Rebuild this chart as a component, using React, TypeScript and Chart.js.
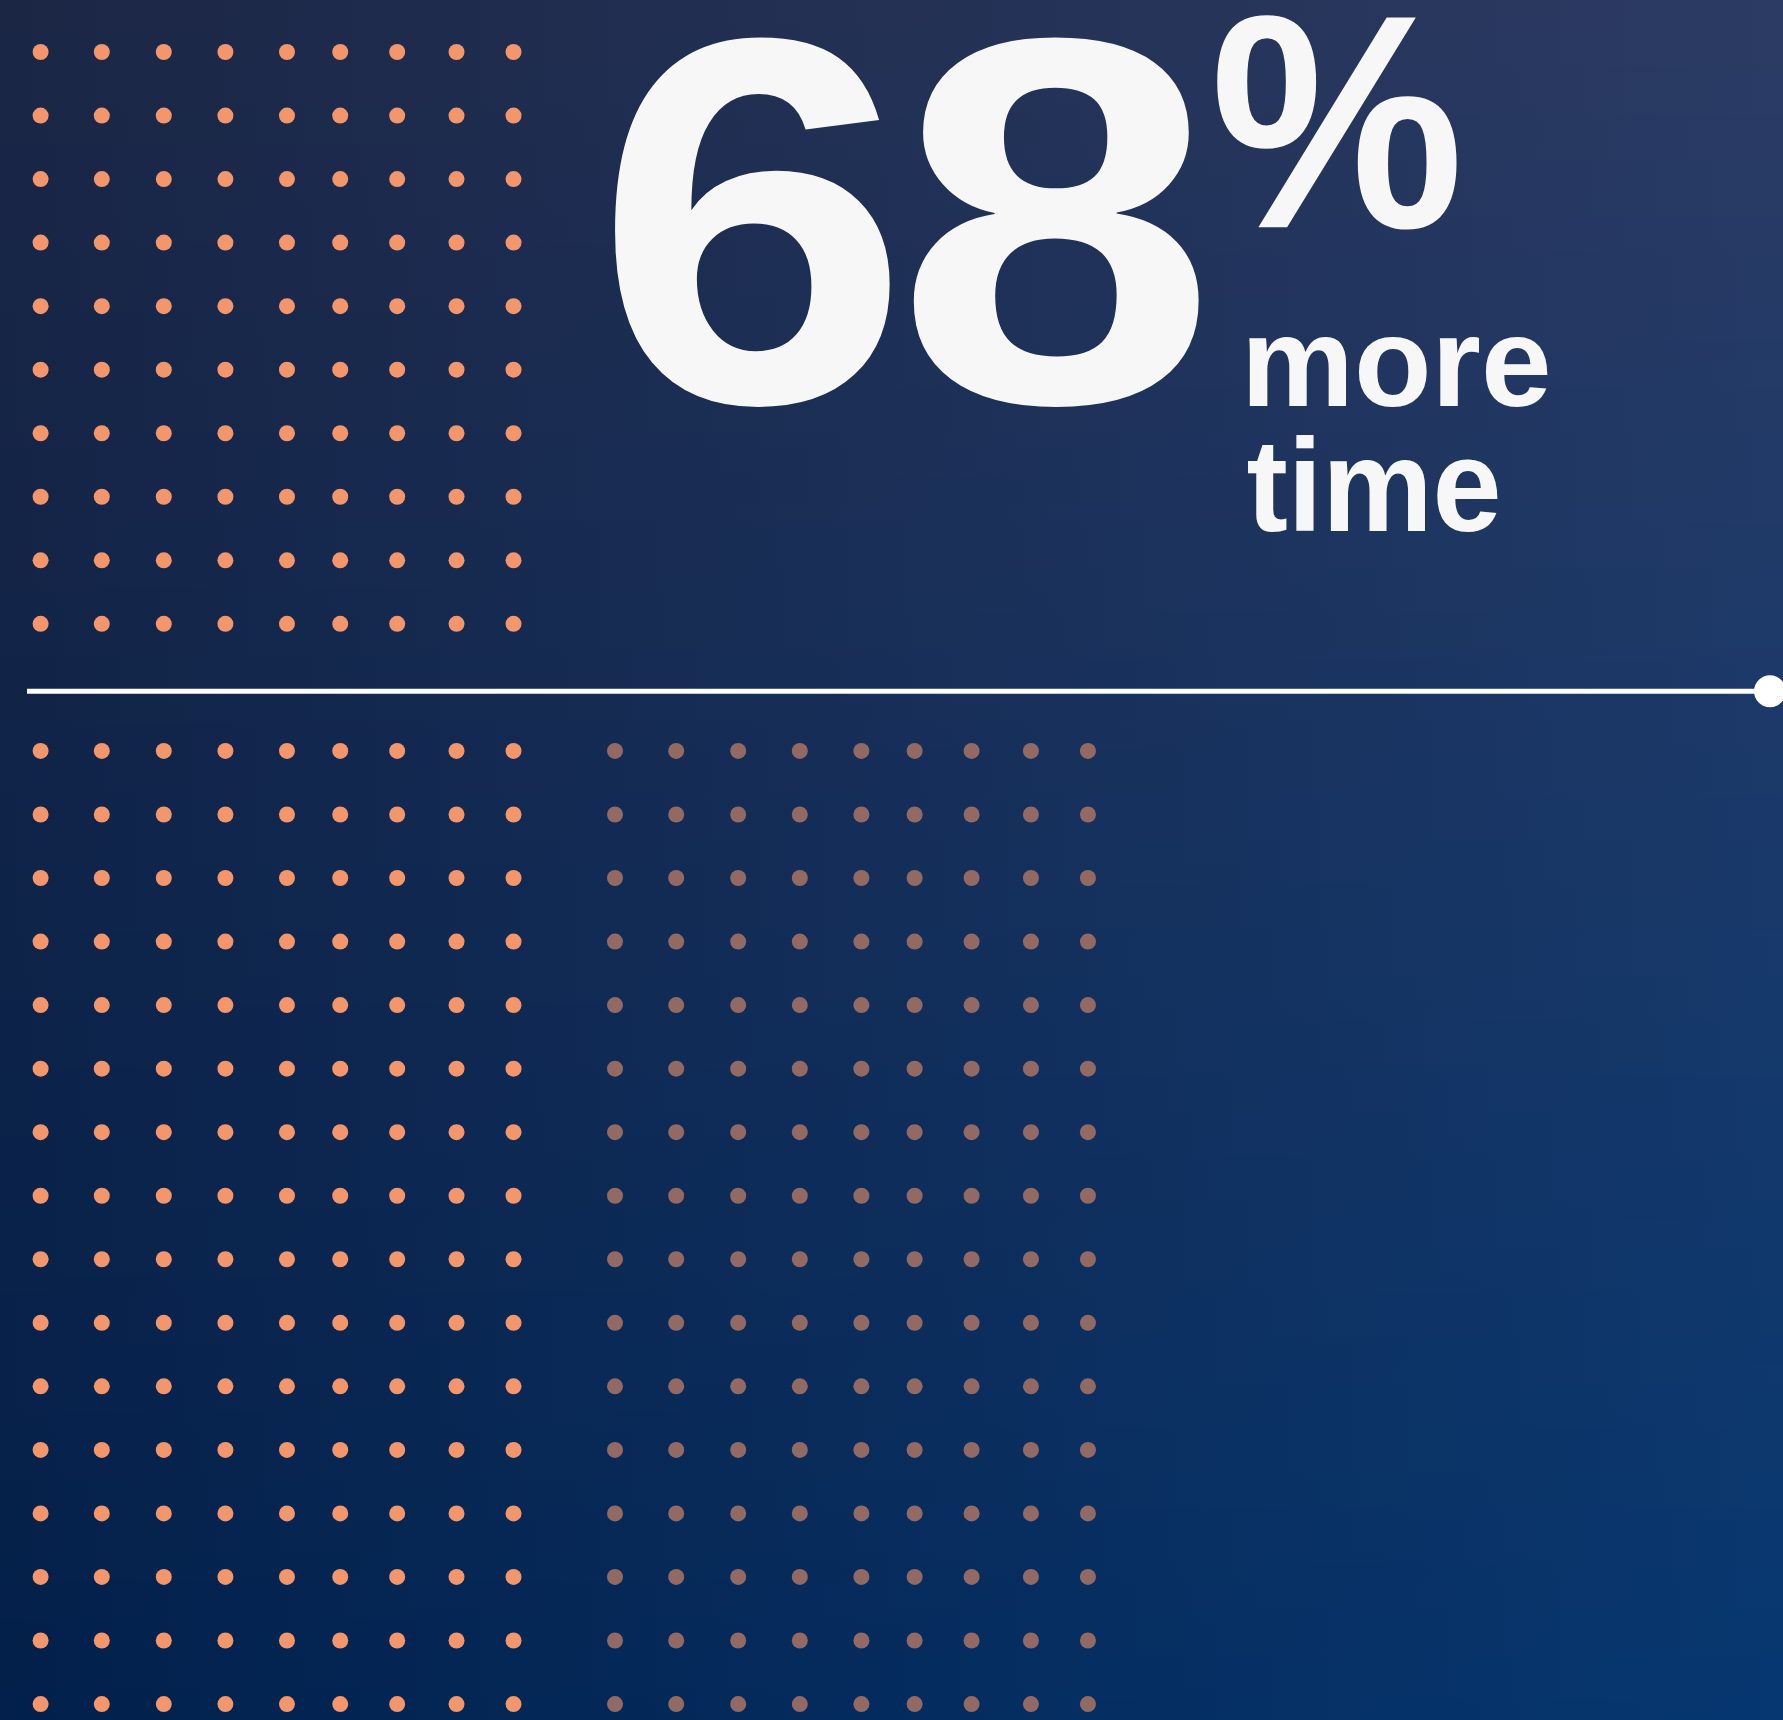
import { useEffect, useRef } from "react";
import { Chart, registerables } from "chart.js";

Chart.register(...registerables);

// ---- data ----
// column positions of each dot group (grid units)
const orangeColumns = [0, 0.995, 2.003, 3.005, 4.006, 4.872, 5.798, 6.763, 7.69];
const mutedColumnShift = 9.34;
// rows (grid units): top block above the divider, bottom block below it
const topRows = [0, 1, 2, 3, 4, 5, 6, 7, 8, 9];
const bottomRows = [11, 12, 13, 14, 15, 16, 17, 18, 19, 20, 21, 22, 23, 24, 25, 26];
// divider line
const dividerLevel = 10.06;
const dividerFrom = -0.22;
const dividerTo = 28.12;
// headline texts
const headlineNumber = ["6", "8"];
const headlineUnit = "%";
const captionLines = ["more", "time"];

// ---- styles ----
const W = 1783;
const H = 1720;
const ORANGE = "#f4966b";
const MUTED = "#936a63";
const TEXT = "#f7f7f7";
const FONT = "'Liberation Sans', Arial, Helvetica, sans-serif";

type Box = [number, number, number, number]; // x0, x1, y0, y1
const numberBoxes: Box[] = [
  [612, 896, 35, 410],
  [913.5, 1202, 35, 410],
];
const unitBox: Box = [1214.6, 1460, 13, 232];
const captionBoxes: Box[] = [
  [1249, 1548.5, 335.5, 408],
  [1246.5, 1498.5, 435, 533],
];

function fitText(ctx: CanvasRenderingContext2D, text: string, box: Box) {
  const [x0, x1, y0, y1] = box;
  ctx.save();
  ctx.font = `bold 400px ${FONT}`;
  ctx.textAlign = "left";
  ctx.textBaseline = "alphabetic";
  const m = ctx.measureText(text);
  const l = m.actualBoundingBoxLeft;
  const r = m.actualBoundingBoxRight;
  const a = m.actualBoundingBoxAscent;
  const d = m.actualBoundingBoxDescent;
  const sx = (x1 - x0) / (l + r);
  const sy = (y1 - y0) / (a + d);
  ctx.translate(x0, y0);
  ctx.scale(sx, sy);
  ctx.fillStyle = TEXT;
  ctx.fillText(text, l, a);
  ctx.restore();
}

function lerp(a: number[], b: number[], t: number) {
  return a.map((v, i) => v + (b[i] - v) * t);
}
function rgb(c: number[]) {
  return `rgb(${Math.round(c[0])},${Math.round(c[1])},${Math.round(c[2])})`;
}

const backgroundPlugin = {
  id: "bg",
  beforeDraw(chart: any) {
    const ctx: CanvasRenderingContext2D = chart.ctx;
    const w = chart.width;
    const h = chart.height;
    const TL = [27, 38, 69];
    const TR = [44, 59, 100];
    const BL = [2, 32, 75];
    const BR = [6, 55, 112];
    ctx.save();
    const step = 4;
    for (let y = 0; y < h; y += step) {
      const t = y / h;
      const left = lerp(TL, BL, t);
      const right = lerp(TR, BR, t);
      const g = ctx.createLinearGradient(0, 0, w, 0);
      g.addColorStop(0, rgb(left));
      g.addColorStop(1, rgb(right));
      ctx.fillStyle = g;
      ctx.fillRect(0, y, w, step + 1);
    }
    ctx.restore();
  },
};

const headlinePlugin = {
  id: "headline",
  afterDraw(chart: any) {
    const ctx: CanvasRenderingContext2D = chart.ctx;
    headlineNumber.forEach((ch, i) => fitText(ctx, ch, numberBoxes[i]));
    fitText(ctx, headlineUnit, unitBox);
    captionLines.forEach((ln, i) => fitText(ctx, ln, captionBoxes[i]));
  },
};

function grid(cols: number[], rows: number[], shift = 0) {
  const pts: { x: number; y: number }[] = [];
  rows.forEach((r) => cols.forEach((c) => pts.push({ x: c + shift, y: r })));
  return pts;
}

export default function App() {
  const ref = useRef<HTMLCanvasElement | null>(null);
  useEffect(() => {
    document.body.style.margin = "0";
    document.body.style.background = "#0c2c5c";
    const canvas = ref.current;
    if (!canvas) return;
    const dot = {
      pointRadius: 8,
      pointHoverRadius: 8,
      pointBorderWidth: 0,
      borderWidth: 0,
      clip: false as any,
    };
    const chart = new Chart(canvas, {
      type: "scatter",
      data: {
        datasets: [
          {
            label: "top",
            data: grid(orangeColumns, topRows),
            backgroundColor: ORANGE,
            pointBackgroundColor: ORANGE,
            ...dot,
          },
          {
            label: "bottom",
            data: grid(orangeColumns, bottomRows),
            backgroundColor: ORANGE,
            pointBackgroundColor: ORANGE,
            ...dot,
          },
          {
            label: "bottom muted",
            data: grid(orangeColumns, bottomRows, mutedColumnShift),
            backgroundColor: MUTED,
            pointBackgroundColor: MUTED,
            ...dot,
          },
          {
            label: "divider",
            data: [
              { x: dividerFrom, y: dividerLevel },
              { x: dividerTo, y: dividerLevel },
            ],
            showLine: true,
            borderColor: "#ffffff",
            borderWidth: 5,
            pointRadius: [0, 16] as any,
            pointBackgroundColor: "#ffffff",
            pointBorderWidth: 0,
            clip: false as any,
          } as any,
        ],
      },
      options: {
        animation: false,
        responsive: false,
        events: [],
        layout: { padding: 0, autoPadding: false } as any,
        plugins: {
          legend: { display: false },
          tooltip: { enabled: false },
          title: { display: false },
        },
        scales: {
          x: {
            type: "linear",
            display: false,
            min: -40.6 / 61.5,
            max: (W - 40.6) / 61.5,
          },
          y: {
            type: "linear",
            display: false,
            reverse: true,
            min: -52 / 63.54,
            max: (H - 52) / 63.54,
          },
        },
      },
      plugins: [backgroundPlugin, headlinePlugin],
    });
    return () => chart.destroy();
  }, []);
  return (
    <div style={{ width: W, height: H, overflow: "hidden" }}>
      <canvas ref={ref} width={W} height={H} style={{ display: "block", width: W, height: H }} />
    </div>
  );
}
